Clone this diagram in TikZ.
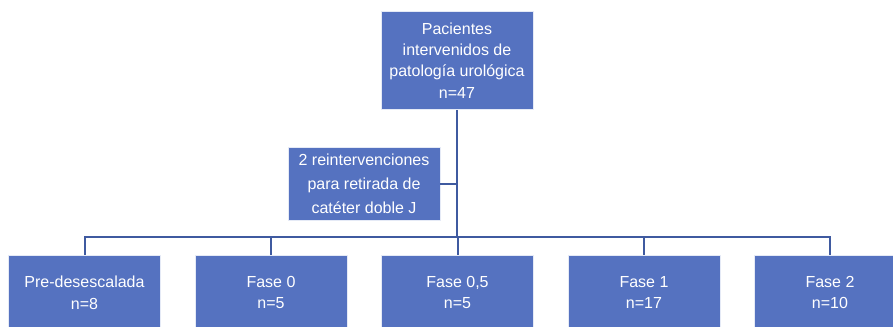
\documentclass[tikz,border=0pt]{standalone}
\usepackage{fontspec}
\setmainfont{Liberation Sans}
\usepackage{tikz}
\usetikzlibrary{positioning}
\definecolor{boxblue}{HTML}{5572C0}
\definecolor{lineblue}{HTML}{3F5AA0}
\tikzset{
	box/.style={fill=boxblue, draw=white!85!boxblue, line width=0.5pt,
		text=white, align=center, font=\fontsize{12}{16}\selectfont,
		minimum width=114pt, inner sep=0pt},
	phase/.style={box, minimum height=56pt, anchor=north},
	link/.style={draw=lineblue, line width=1.5pt}
}

\begin{document}
\begin{tikzpicture}[x=0.75pt, y=-0.75pt]
	\useasboundingbox (0,0) rectangle (893,327);
	\clip (0,0) rectangle (893,327);
	
	\node (pac)[box, minimum height=74pt] at (457,60.5) {Pacientes\\intervenidos de\\patología urológica\\n=47};
	\node (reint)[box, minimum height=55pt, font=\fontsize{12}{18}\selectfont] at (364,184) {2 reintervenciones\\para retirada de\\catéter doble J};
	\coordinate (bar) at (457,237);
	
	\node (pre)[phase] at (84.5,255) {Pre-desescalada\\n=8};
	\node (f0)[phase] at (271,255) {Fase 0\\n=5};
	\node (f05)[phase] at (457.5,255) {Fase 0,5\\n=5};
	\node (f1)[phase] at (644,255) {Fase 1\\n=17};
	\node (f2)[phase] at (830,255) {Fase 2\\n=10};
	
	\draw [link] (pac) -- (bar);
	\draw [link] (reint.east) -- (reint.east -| bar);
	\foreach \p in {pre, f0, f05, f1, f2}
		\draw [link] (bar) -| (\p.north);
\end{tikzpicture}
\end{document}
